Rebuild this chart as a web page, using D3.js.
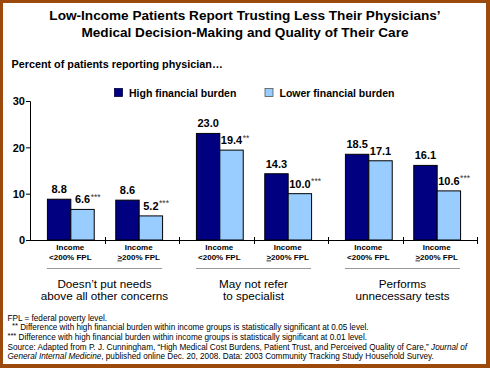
<!DOCTYPE html>
<html>
<head>
<meta charset="utf-8">
<script src="https://cdn.jsdelivr.net/npm/d3@7"></script>
<style>
  html, body { margin: 0; padding: 0; background: #fff; }
  svg { display: block; font-family: "Liberation Sans", Arial, Helvetica, sans-serif; }
</style>
</head>
<body>
<svg id="chart" width="490" height="368"></svg>
<script>
// ---------- DATA ----------
const titleLines = ["Low-Income Patients Report Trusting Less Their Physicians\u2019",
                    "Medical Decision-Making and Quality of Their Care"];
const subtitle = "Percent of patients reporting physician\u2026";
const groups = ["needs", "refer", "tests"];
const groupLabels = [["Doesn\u2019t put needs", "above all other concerns"],
                     ["May not refer", "to specialist"],
                     ["Performs", "unnecessary tests"]];
const incomeCats = ["lt200", "ge200"];
const incomeLabels = [["<", "200% FPL", false], [">", "200% FPL", true]];
const seriesNames = ["High financial burden", "Lower financial burden"];
const seriesColors = ["#000080", "#99CCFF"];
const highBurden  = [8.8, 8.6, 23.0, 14.3, 18.5, 16.1];
const lowerBurden = [6.6, 5.2, 19.4, 10.0, 17.1, 10.6];
const highSig  = ["", "", "", "", "", ""];
const lowerSig = ["***", "***", "**", "***", "", "***"];
const yTicks = [0, 10, 20, 30];
const footnotes = [
  [["FPL = federal poverty level.", "n"]],
  [["  ", "n"], ["**", "sup"], [" Difference with high financial burden within income groups is statistically significant at 0.05 level.", "n"]],
  [["***", "sup"], [" Difference with high financial burden within income groups is statistically significant at 0.01 level.", "n"]],
  [["Source: Adapted from P. J. Cunningham, \u201cHigh Medical Cost Burdens, Patient Trust, and Perceived Quality of Care,\u201d ", "n"], ["Journal of", "i"]],
  [["General Internal Medicine", "i"], [", published online Dec. 20, 2008. Data: 2003 Community Tracking Study Household Survey.", "n"]]
];

// ---------- BUILD ----------
const svg = d3.select("#chart");
const W = 490, H = 368;

// frame
svg.append("rect").attr("x", 0).attr("y", 0).attr("width", W).attr("height", H).attr("fill", "#9B4A0C");
svg.append("rect").attr("x", 3).attr("y", 3).attr("width", 483).attr("height", 361).attr("fill", "#fff");

// title
svg.append("g").selectAll("text").data(titleLines).join("text")
  .attr("x", 245).attr("y", (d, i) => 20 + i * 17)
  .attr("text-anchor", "middle").attr("font-weight", "bold").attr("font-size", "13.6px")
  .attr("fill", "#000").text(d => d);

svg.append("text").attr("x", 11.5).attr("y", 67.5)
  .attr("font-weight", "bold").attr("font-size", "10.8px").text(subtitle);

// legend
const legend = svg.append("g");
const legX = [114.5, 265];
seriesNames.forEach((s, i) => {
  legend.append("rect").attr("x", legX[i]).attr("y", 88.5).attr("width", 8).attr("height", 8)
    .attr("fill", seriesColors[i]).attr("stroke", i === 0 ? "#000040" : "#555").attr("stroke-width", 0.8);
  legend.append("text").attr("x", legX[i] + 14.5).attr("y", 96.8)
    .attr("font-weight", "bold").attr("font-size", "10.5px").text(s);
});

// scales
const plotLeft = 30, plotRight = 477, y0 = 240, yTop = 101;
const y = d3.scaleLinear().domain([0, 30]).range([y0, yTop]);
const x0 = d3.scaleBand().domain(groups).range([plotLeft, plotRight]).padding(0);
const x1 = d3.scaleBand().domain(incomeCats).range([0, x0.bandwidth()]).paddingInner(0).paddingOuter(0.09);
const x2 = d3.scaleBand().domain([0, 1]).range([0, x1.bandwidth()]).paddingInner(0).paddingOuter(0.46);

// flattened records
const records = [];
groups.forEach((g, gi) => {
  incomeCats.forEach((c, ci) => {
    const k = gi * 2 + ci;
    records.push({ g, c, gi, ci, k, vals: [highBurden[k], lowerBurden[k]], sig: [highSig[k], lowerSig[k]] });
  });
});
const catX = r => x0(r.g) + x1(r.c);

// y axis
const yAxis = d3.axisLeft(y).tickValues(yTicks).tickSize(4).tickFormat(d3.format("d"));
const yg = svg.append("g").attr("transform", `translate(${plotLeft},0)`).call(yAxis);
yg.select(".domain").attr("stroke", "#000").attr("d", `M-4,${yTop}.5H0.5V${y0}.5`);
yg.selectAll(".tick line").attr("stroke", "#000");
yg.selectAll(".tick text").attr("font-family", "Liberation Sans, Arial, sans-serif")
  .attr("font-weight", "bold").attr("font-size", "11px").attr("fill", "#000").attr("x", -5).attr("dy", "0.36em");

// bars
const barG = svg.append("g");
records.forEach(r => {
  [0, 1].forEach(s => {
    const bx = catX(r) + x2(s);
    barG.append("rect")
      .attr("x", bx + 0.5).attr("y", y(r.vals[s]))
      .attr("width", x2.bandwidth()).attr("height", y0 - y(r.vals[s]))
      .attr("fill", seriesColors[s]).attr("stroke", "#000").attr("stroke-width", 1);
  });
});

// x axis line and ticks
const xg = svg.append("g");
xg.append("line").attr("x1", plotLeft).attr("x2", plotRight).attr("y1", y0 + 0.5).attr("y2", y0 + 0.5)
  .attr("stroke", "#000");
const tickXs = [];
groups.forEach(g => { tickXs.push(x0(g)); tickXs.push(x0(g) + x1("ge200")); });
tickXs.push(x0(groups[groups.length - 1]) + x0.bandwidth());
xg.selectAll("line.tk").data(tickXs.slice(1)).join("line").attr("class", "tk")
  .attr("x1", d => Math.round(d) + 0.5).attr("x2", d => Math.round(d) + 0.5)
  .attr("y1", y0 - 3).attr("y2", y0 + 4).attr("stroke", "#000");

// value labels
const labG = svg.append("g");
records.forEach(r => {
  [0, 1].forEach(s => {
    const cx = catX(r) + x2(s) + x2.bandwidth() / 2 + 0.5;
    const ty = y(r.vals[s]) - 6;
    const t = labG.append("text").attr("x", cx).attr("y", ty)
      .attr("text-anchor", "middle").attr("font-weight", "bold").attr("font-size", "11px")
      .text(r.vals[s].toFixed(1));
    if (r.sig[s]) {
      const w = t.node().getComputedTextLength();
      labG.append("text").attr("x", cx + w / 2 + 0.5).attr("y", ty - 3.5)
        .attr("font-size", "8.5px").attr("fill", "#333").text(r.sig[s]);
    }
  });
});

// category labels
const catG = svg.append("g");
records.forEach(r => {
  const cx = catX(r) + x1.bandwidth() / 2;
  catG.append("text").attr("x", cx).attr("y", 249.5).attr("text-anchor", "middle")
    .attr("font-weight", "bold").attr("font-size", "8px").text("Income");
  const lab = incomeLabels[r.ci];
  const t2 = catG.append("text").attr("x", cx).attr("y", 259.5).attr("text-anchor", "middle")
    .attr("font-weight", "bold").attr("font-size", "8px");
  t2.append("tspan").attr("text-decoration", lab[2] ? "underline" : null).text(lab[0]);
  t2.append("tspan").text(lab[1]);
});

// group separators + labels
const grpG = svg.append("g");
groups.forEach((g, gi) => {
  const xs = x0(g) + x1(incomeCats[0]) + x2(0);
  const xe = x0(g) + x1(incomeCats[1]) + x2(1) + x2.bandwidth();
  grpG.append("line").attr("x1", xs).attr("x2", xe).attr("y1", 268.5).attr("y2", 268.5)
    .attr("stroke", "#999").attr("stroke-width", 1);
  const gc = x0(g) + x0.bandwidth() / 2;
  groupLabels[gi].forEach((line, li) => {
    grpG.append("text").attr("x", gc).attr("y", 287.5 + li * 12.5).attr("text-anchor", "middle")
      .attr("font-size", "11.7px").text(line);
  });
});

// footnotes
const fnG = svg.append("g");
footnotes.forEach((parts, li) => {
  const t = fnG.append("text").attr("x", 7.5).attr("y", 320.5 + li * 9.7)
    .attr("font-size", "8.2px").attr("xml:space", "preserve").style("white-space", "pre");
  parts.forEach((p, pi) => {
    const ts = t.append("tspan").text(p[0]);
    if (p[1] === "i") ts.attr("font-style", "italic");
    if (p[1] === "sup") ts.attr("font-size", "7.5px").attr("dy", "-2");
    else if (pi > 0 && parts[pi - 1][1] === "sup") ts.attr("dy", "2");
  });
});
</script>
</body>
</html>
